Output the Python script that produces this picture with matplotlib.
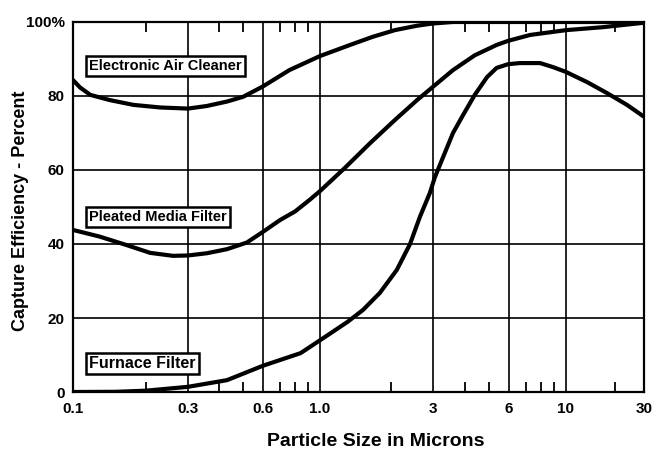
import numpy as np
import matplotlib
matplotlib.use('agg')
import matplotlib.pyplot as plt

# particle size (microns) vs capture efficiency (%)
elec_x = [0.1, 0.107, 0.118, 0.142, 0.178, 0.23, 0.3, 0.357, 0.43, 0.5, 0.6, 0.76, 1.0, 1.34, 1.67, 2.07, 2.57, 3.0, 3.6, 5.0, 10.0, 30.0]
elec_y = [84.3, 82.3, 80.3, 78.9, 77.6, 76.9, 76.6, 77.3, 78.5, 79.8, 82.6, 87.0, 90.8, 93.8, 96.0, 97.8, 99.0, 99.6, 100.0, 100.0, 100.0, 100.0]

pleat_x = [0.1, 0.129, 0.167, 0.209, 0.26, 0.3, 0.357, 0.43, 0.517, 0.6, 0.7, 0.8, 0.91, 1.0, 1.27, 1.63, 2.07, 2.57, 3.0, 3.6, 4.39, 5.36, 5.95, 7.25, 10.0, 16.8, 30.0]
pleat_y = [43.8, 42.0, 39.7, 37.6, 36.8, 36.9, 37.5, 38.6, 40.4, 43.3, 46.5, 48.8, 51.9, 54.3, 60.5, 67.3, 73.5, 78.9, 82.5, 87.0, 91.0, 93.8, 94.9, 96.5, 97.8, 98.6, 99.8]

furn_x = [0.1, 0.15, 0.2, 0.3, 0.43, 0.6, 0.84, 1.08, 1.31, 1.52, 1.79, 2.11, 2.4, 2.64, 2.91, 3.05, 3.29, 3.6, 3.95, 4.39, 4.91, 5.36, 5.95, 6.62, 7.93, 8.91, 10.0, 13.4, 17.8, 23.6, 30.0]
furn_y = [0.0, 0.05, 0.35, 1.4, 3.2, 7.1, 10.5, 15.4, 19.0, 22.2, 26.8, 33.0, 40.0, 47.3, 53.8, 58.0, 63.5, 70.0, 74.9, 80.3, 85.1, 87.6, 88.6, 88.9, 88.9, 87.8, 86.5, 83.8, 80.8, 77.6, 74.4]

labels = ["Electronic Air Cleaner", "Pleated Media Filter", "Furnace Filter"]

major_x = [0.1, 0.3, 0.6, 1.0, 3, 6, 10, 30]
major_lbl = ["0.1", "0.3", "0.6", "1.0", "3", "6", "10", "30"]
minor_x = [0.2, 0.4, 0.5, 0.7, 0.8, 0.9, 2, 4, 5, 7, 8, 9, 20]
y_ticks = [0, 20, 40, 60, 80, 100]
y_lbl = ["0", "20", "40", "60", "80", "100%"]

# the printed axis is log-like but not evenly spaced per decade
scale_log = np.log10(major_x)
scale_pos = np.array([0, 115, 190, 247, 360, 436, 493, 571], dtype=float)

def fwd(x):
    x = np.asarray(x, dtype=float)
    return np.interp(np.log10(np.clip(x, 1e-6, None)), scale_log, scale_pos)

def inv(p):
    return 10 ** np.interp(p, scale_pos, scale_log)

plt.rcParams['font.family'] = ['Liberation Sans', 'DejaVu Sans']

fig = plt.figure(figsize=(6.54, 4.51), dpi=100)
ax = fig.add_axes([73/654, 1 - 392/451, 571/654, 370/451])
ax.set_xscale('function', functions=(fwd, inv))
ax.set_xlim(0.1, 30)
ax.set_ylim(0, 100)

for gx in major_x[1:-1]:
    ax.axvline(gx, color='black', lw=1.2, zorder=1)
for gy in y_ticks[1:-1]:
    ax.axhline(gy, color='black', lw=1.2, zorder=1)

for xs, ys in [(elec_x, elec_y), (pleat_x, pleat_y), (furn_x, furn_y)]:
    ax.plot(xs, ys, color='black', lw=3.0, solid_capstyle='round', solid_joinstyle='round', zorder=3)

ax.set_xticks(major_x)
ax.set_xticklabels(major_lbl)
ax.set_xticks(minor_x, minor=True)
ax.set_yticks(y_ticks)
ax.set_yticklabels(y_lbl)
ax.tick_params(axis='x', which='major', length=0, pad=7, labelsize=11)
ax.tick_params(axis='y', which='major', length=0, pad=6, labelsize=11)
ax.tick_params(axis='x', which='minor', length=7, width=1.3, direction='in', top=True, bottom=True)
for lab in ax.get_xticklabels() + ax.get_yticklabels():
    lab.set_fontweight('bold')

for s in ax.spines.values():
    s.set_linewidth(1.6)

ax.set_xlabel("Particle Size in Microns", fontsize=14, fontweight='bold')
ax.set_ylabel("Capture Efficiency - Percent", fontsize=13, fontweight='bold')
ax.xaxis.set_label_coords(0.53, -0.112)
ax.yaxis.set_label_coords(-0.077, 0.49)

box = dict(boxstyle='square,pad=0.2', facecolor='white', edgecolor='black', linewidth=1.8)
for txt, yy, fs in zip(labels, [0.881, 0.472, 0.077], [10.5, 10.5, 11.5]):
    ax.text(0.028, yy, txt, transform=ax.transAxes, fontsize=fs, fontweight='bold',
            va='center', ha='left', bbox=box, zorder=4)

fig.savefig("out.png", dpi=100)
